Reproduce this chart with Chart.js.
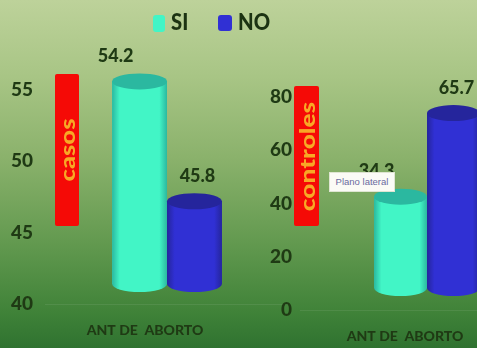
<!DOCTYPE html>
<html>
<head>
<meta charset="utf-8">
<script src="https://cdn.jsdelivr.net/npm/chart.js@4/dist/chart.umd.min.js"></script>
<style>
  html, body { margin: 0; padding: 0; }
  body {
    width: 477px; height: 348px; overflow: hidden; position: relative;
    background: linear-gradient(180deg, #bdd29a 0%, #a8c585 22%, #8bb26c 45%, #62994f 70%, #3f8238 90%, #2f7230 100%);
    font-family: Lato, "Open Sans", sans-serif;
  }
  canvas { position: absolute; top: 0; }
  .swatch { position: absolute; border-radius: 3px; }
  .legend-text {
    position: absolute; top: 6px; font: 900 23px/30px Lato, sans-serif; color: #1c3312;
    transform: scaleX(0.88); transform-origin: left center;
  }
  .tag {
    position: absolute; background: #f50a06; border-radius: 2px;
    display: flex; align-items: center; justify-content: center;
  }
  .tag span { white-space: nowrap; font-weight: 900; color: #f8a825; }
  #hint {
    position: absolute; left: 329px; top: 172px; width: 66px; height: 20px; box-sizing: border-box;
    background: #fbfbf6; border: 1px solid #dfe5d2; color: #6a6aa0;
    font: 9.5px/18px "Liberation Sans", sans-serif; text-align: center;
  }
</style>
</head>
<body>
<canvas id="casos" width="289" height="348" style="left:0"></canvas>
<canvas id="controles" width="286" height="348" style="left:268px"></canvas>

<div id="legend"></div>
<div class="tag" style="left:55px;top:74px;width:24px;height:152px"><span style="font-size:20px;transform:rotate(-90deg) scaleX(1.28)">casos</span></div>
<div class="tag" style="left:294px;top:86px;width:25px;height:140px"><span style="font-size:21px;transform:rotate(-90deg) scaleX(1.25)">controles</span></div>
<div id="hint">Plano lateral</div>

<script>
const categories = ["ANT DE  ABORTO"];
const seriesNames = ["SI", "NO"];
const seriesColors = ["#42f5c6", "#3030d4"];
const seriesEdges = ["#2bb8a0", "#25259c"];
const casosValues = { SI: [54.2], NO: [45.8] };
const controlesValues = { SI: [34.3], NO: [65.7] };
const casosTicks = [40, 45, 50, 55];
const controlesTicks = [0, 20, 40, 60, 80];
const inkColor = "#1f3a14";

// Gives the flat bars a cylinder look: a shaded body, a bottom curve and an elliptical cap.
// The whole bar group sits on a raised floor, so it is shifted up by `lift`.
const cylinders = {
  id: "cylinders",
  beforeDatasetsDraw(chart, args, opts) {
    chart.ctx.save();
    chart.ctx.translate(0, -opts.lift);
  },
  afterDatasetsDraw(chart, args, opts) {
    const ctx = chart.ctx;
    chart.data.datasets.forEach((ds, i) => {
      chart.getDatasetMeta(i).data.forEach((bar) => {
        const { x, y, base, width } = bar.getProps(["x", "y", "base", "width"], true);
        const rx = width / 2, ry = opts.capHeight;
        const shade = ctx.createLinearGradient(x - rx, 0, x + rx, 0);
        shade.addColorStop(0, seriesEdges[i]);
        shade.addColorStop(0.14, seriesColors[i]);
        shade.addColorStop(0.86, seriesColors[i]);
        shade.addColorStop(1, seriesEdges[i]);
        ctx.fillStyle = shade;
        ctx.beginPath();
        ctx.moveTo(x - rx, y);
        ctx.lineTo(x - rx, base);
        ctx.ellipse(x, base, rx, ry, 0, Math.PI, 0, true);
        ctx.lineTo(x + rx, y);
        ctx.closePath();
        ctx.fill();
        ctx.fillStyle = seriesEdges[i];
        ctx.beginPath();
        ctx.ellipse(x, y, rx, ry, 0, 0, Math.PI * 2);
        ctx.fill();
        ctx.fillStyle = inkColor;
        ctx.font = "900 18px Lato, sans-serif";
        ctx.textAlign = "center";
        ctx.textBaseline = "middle";
        ctx.fillText(ds.data[0].toFixed(1), x + opts.labelShift[i], y - opts.labelGap);
      });
    });
    ctx.restore();
  }
};

function buildChart(id, values, ticks, cfg) {
  return new Chart(document.getElementById(id), {
    type: "bar",
    plugins: [cylinders],
    data: {
      labels: categories,
      datasets: seriesNames.map((name, i) => ({
        label: name,
        data: values[name],
        base: ticks[0],
        backgroundColor: seriesColors[i],
        clip: false
      }))
    },
    options: {
      responsive: false,
      animation: false,
      layout: { padding: { top: cfg.top } },
      categoryPercentage: cfg.group,
      barPercentage: 1,
      plugins: {
        legend: { display: false },
        tooltip: { enabled: false },
        cylinders: { lift: cfg.lift, capHeight: 8, labelShift: [-24, 3], labelGap: 25 }
      },
      scales: {
        x: {
          grid: { display: false, drawTicks: false },
          border: { color: "rgba(255,255,255,0.08)" },
          afterFit(s) { s.height = cfg.axisHeight; },
          ticks: {
            labelOffset: -22, padding: 18,
            color: inkColor, font: { family: "Lato", size: 14, weight: "900" }
          }
        },
        y: {
          min: ticks[0],
          max: ticks[ticks.length - 1],
          afterBuildTicks(s) { s.ticks = ticks.map((value) => ({ value })); },
          afterFit(s) { s.width = cfg.axisWidth; },
          grid: { display: false, drawTicks: false },
          border: { display: false },
          ticks: {
            padding: cfg.tickGap,
            color: inkColor, font: { family: "Lato", size: 19, weight: "900" }
          }
        }
      }
    }
  });
}

buildChart("casos", casosValues, casosTicks,
  { top: 90, axisHeight: 44, axisWidth: 45, tickGap: 12, lift: 20, group: 0.45 });
buildChart("controles", controlesValues, controlesTicks,
  { top: 97, axisHeight: 38, axisWidth: 32, tickGap: 8, lift: 22, group: 0.417 });

// Shared legend above both panels
const legendLayout = [
  { swatch: [153, 15, 12, 17], text: 171 },
  { swatch: [218, 15, 14, 16], text: 238 }
];
const legend = document.getElementById("legend");
seriesNames.forEach((name, i) => {
  const [l, t, w, h] = legendLayout[i].swatch;
  const box = document.createElement("div");
  box.className = "swatch";
  box.style.cssText = `left:${l}px;top:${t}px;width:${w}px;height:${h}px;background:${seriesColors[i]}`;
  const label = document.createElement("div");
  label.className = "legend-text";
  label.style.left = legendLayout[i].text + "px";
  label.textContent = name;
  legend.append(box, label);
});
</script>
</body>
</html>
